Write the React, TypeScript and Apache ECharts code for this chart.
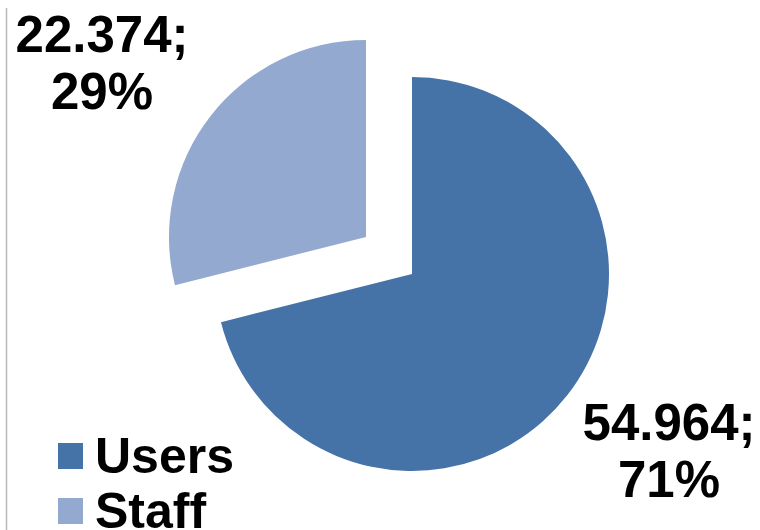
import React, { useEffect, useRef } from "react";
import * as echarts from "echarts";

const categories = ["Users", "Staff"];
const values = [54.964, 22.374];
const valueLabels = ["54.964", "22.374"];
const colors = ["#4572A7", "#93A9CF"];

export default function App() {
  const ref = useRef<HTMLDivElement>(null);
  useEffect(() => {
    if (!ref.current) return;
    const chart = echarts.init(ref.current, null, { renderer: "svg" });
    const labelPos = [
      { x: 669, y: 451 },
      { x: 102, y: 63 },
    ];
    const legendText = {
      fontFamily: "Liberation Sans, Arial, sans-serif",
      fontWeight: "bold",
      fontSize: 50,
      color: "#000000",
      padding: [0, 0, 0, 7],
    };
    const labelStyle = {
      show: true,
      position: "outside",
      overflow: "none",
      fontFamily: "Liberation Sans, Arial, sans-serif",
      fontWeight: "bold",
      fontSize: 51,
      lineHeight: 57,
      color: "#000000",
      align: "center",
      formatter: (p: any) =>
        valueLabels[p.dataIndex] + ";\n" + Math.round(p.percent) + "%",
    };
    // shown slice per series: 0 -> Users (in place), 1 -> Staff (pulled out)
    const makeSeries = (shown: number, center: number[]) => ({
      type: "pie",
      center,
      radius: 197,
      startAngle: 90,
      clockwise: true,
      silent: true,
      labelLine: { show: false },
      label: labelStyle,
      labelLayout: (params: any) =>
        params.dataIndex === shown
          ? {
              x: labelPos[params.dataIndex].x,
              y: labelPos[params.dataIndex].y,
              align: "center",
              verticalAlign: "middle",
            }
          : {},
      emphasis: { disabled: true },
      data: categories.map((name, i) => ({
        name,
        value: values[i],
        itemStyle: { color: i === shown ? colors[i] : "rgba(0,0,0,0)" },
        label: { show: i === shown },
      })),
    });
    chart.setOption({
      animation: false,
      backgroundColor: "#ffffff",
      graphic: [
        {
          type: "line",
          shape: { x1: 6.5, y1: 8, x2: 6.5, y2: 530 },
          style: { stroke: "#b8b8b8", lineWidth: 1.5 },
          silent: true,
        },
      ],
      legend: [
        {
          orient: "vertical",
          left: 58,
          top: 431,
          padding: 0,
          itemWidth: 25,
          itemHeight: 26,
          icon: "rect",
          selectedMode: false,
          data: [{ name: categories[0], itemStyle: { color: colors[0] } }],
          textStyle: legendText,
        },
        {
          orient: "vertical",
          left: 58,
          top: 486,
          padding: 0,
          itemWidth: 25,
          itemHeight: 26,
          icon: "rect",
          selectedMode: false,
          data: [{ name: categories[1], itemStyle: { color: colors[1] } }],
          textStyle: legendText,
        },
      ],
      series: [makeSeries(0, [412, 274]), makeSeries(1, [366, 237])],
    });
    return () => chart.dispose();
  }, []);
  return <div ref={ref} style={{ width: 760, height: 530, position: "absolute", left: 0, top: 0 }} />;
}
